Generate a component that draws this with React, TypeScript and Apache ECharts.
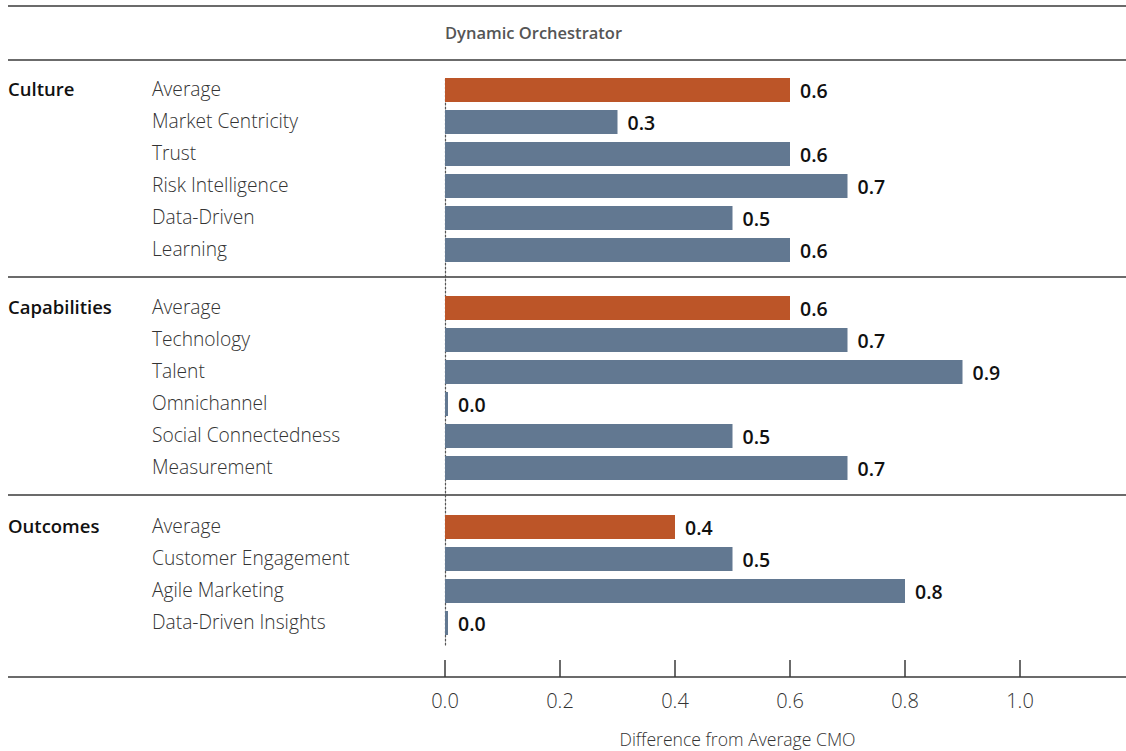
import React, { useEffect, useRef } from "react";
import * as echarts from "echarts";

const chartTitle = "Dynamic Orchestrator";
const axisName = "Difference from Average CMO";

const sectionNames = ["Culture", "Capabilities", "Outcomes"];

const cultureLabels = ["Average", "Market Centricity", "Trust", "Risk Intelligence", "Data-Driven", "Learning"];
const cultureValues = [0.6, 0.3, 0.6, 0.7, 0.5, 0.6];

const capabilityLabels = ["Average", "Technology", "Talent", "Omnichannel", "Social Connectedness", "Measurement"];
const capabilityValues = [0.6, 0.7, 0.9, 0.0, 0.5, 0.7];

const outcomeLabels = ["Average", "Customer Engagement", "Agile Marketing", "Data-Driven Insights"];
const outcomeValues = [0.4, 0.5, 0.8, 0.0];

const xMin = 0;
const xMax = 1.0;
const xInterval = 0.2;

const FONT = "'Open Sans', 'Noto Sans', sans-serif";
const ORANGE = "#BC5528";
const BLUE = "#627891";
const LINE = "#3a3a3a";

export default function App() {
  const ref = useRef<HTMLDivElement>(null);

  useEffect(() => {
    document.body.style.margin = "0";
    if (!ref.current) return;
    const chart = echarts.init(ref.current, null, { renderer: "svg" });

    const sections = [
      { name: sectionNames[0], labels: cultureLabels, values: cultureValues, top: 74 },
      { name: sectionNames[1], labels: capabilityLabels, values: capabilityValues, top: 292 },
      { name: sectionNames[2], labels: outcomeLabels, values: outcomeValues, top: 511 },
    ];
    const rowH = 32;

    const grids: any[] = [];
    const xAxes: any[] = [];
    const yAxes: any[] = [];
    const series: any[] = [];

    sections.forEach((s, i) => {
      grids.push({ left: 445, right: 106, top: s.top, height: s.labels.length * rowH });
      xAxes.push({
        gridIndex: i,
        type: "value",
        min: xMin,
        max: xMax,
        interval: xInterval,
        show: false,
      });
      yAxes.push({
        gridIndex: i,
        type: "category",
        inverse: true,
        data: s.labels,
        axisLine: { show: false },
        axisTick: { show: false },
        axisLabel: {
          align: "left",
          margin: 437,
          padding: [0, 0, 4, 0],
          formatter: (v: string, idx: number) =>
            idx === 0 ? `{sec|${s.name}}{item|${v}}` : `{sec| }{item|${v}}`,
          rich: {
            sec: { width: 144, fontFamily: FONT, fontSize: 18.5, fontWeight: 600, color: "#111" },
            item: { fontFamily: FONT, fontSize: 19.2, fontWeight: 300, color: "#333" },
          },
        },
      });
      series.push({
        type: "bar",
        xAxisIndex: i,
        yAxisIndex: i,
        barWidth: 24,
        barMinHeight: 3,
        data: s.values.map((v, k) => ({
          value: v,
          itemStyle: { color: k === 0 ? ORANGE : BLUE },
        })),
        label: {
          show: true,
          position: "right",
          distance: 10,
          fontFamily: FONT,
          fontSize: 19.5,
          fontWeight: 600,
          color: "#111",
          formatter: (p: any) => Number(p.value).toFixed(1),
        },
      });
    });

    // grid for the dotted zero line spanning all sections
    grids.push({ left: 445, right: 106, top: 78, height: 567 });
    xAxes.push({ gridIndex: 3, type: "value", min: xMin, max: xMax, interval: xInterval, show: false });
    yAxes.push({
      gridIndex: 3,
      type: "value",
      min: 0,
      max: 1,
      axisLine: { show: true, lineStyle: { color: "#555", type: [2, 2], width: 1.2 } },
      axisTick: { show: false },
      axisLabel: { show: false },
      splitLine: { show: false },
    });

    // grid for the bottom value axis
    grids.push({ left: 445, right: 106, top: 645, height: 32 });
    xAxes.push({
      gridIndex: 4,
      type: "value",
      min: xMin,
      max: xMax,
      interval: xInterval,
      axisLine: { show: false },
      axisTick: { show: true, inside: true, length: 17, lineStyle: { color: LINE, width: 1.5 } },
      splitLine: { show: false },
      axisLabel: {
        margin: 13,
        fontFamily: FONT,
        fontSize: 20,
        fontWeight: 300,
        color: "#333",
        formatter: (v: number) => v.toFixed(1),
      },
      name: axisName,
      nameLocation: "middle",
      nameGap: 53,
      nameTextStyle: { fontFamily: FONT, fontSize: 17.6, fontWeight: 300, color: "#333", padding: [0, 0, 0, 10] },
    });
    yAxes.push({ gridIndex: 4, type: "value", min: 0, max: 1, show: false });

    const hLines = [6, 60, 277, 495, 677].map((y) => ({
      type: "line",
      shape: { x1: 8, y1: y, x2: 1126, y2: y },
      style: { stroke: LINE, lineWidth: 1.6 },
      silent: true,
    }));

    chart.setOption({
      animation: false,
      grid: grids,
      xAxis: xAxes,
      yAxis: yAxes,
      series,
      title: {
        text: chartTitle,
        left: 440,
        top: 19,
        textStyle: { fontFamily: FONT, fontSize: 16.5, fontWeight: 600, color: "#555" },
      },
      graphic: hLines,
    });

    return () => chart.dispose();
  }, []);

  return <div ref={ref} style={{ width: 1126, height: 751 }} />;
}
